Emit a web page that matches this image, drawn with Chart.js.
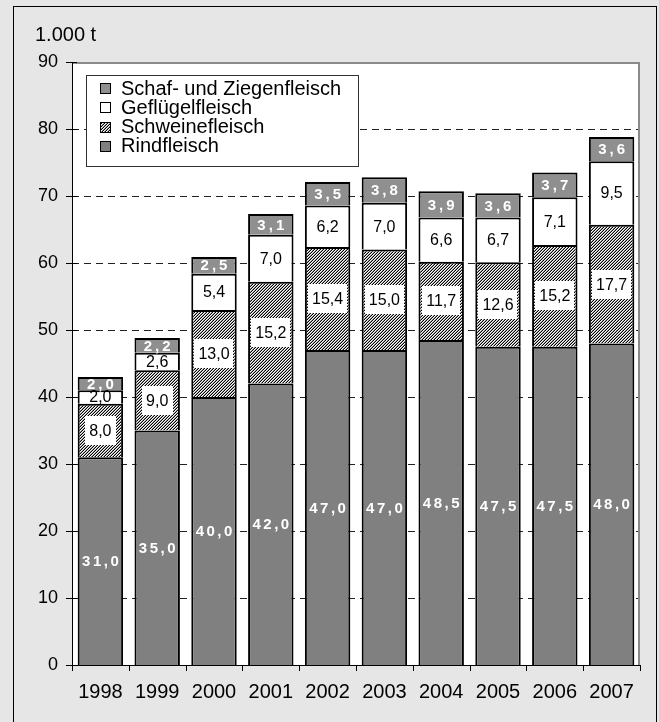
<!DOCTYPE html>
<html>
<head>
<meta charset="utf-8">
<script src="https://cdn.jsdelivr.net/npm/chart.js@4.4.1/dist/chart.umd.min.js"></script>
<style>
  html, body { margin: 0; padding: 0; background: #e6e6e6; }
  #wrap { width: 659px; height: 722px; }
</style>
</head>
<body>
<div id="wrap"><canvas id="meatChart" width="659" height="722"></canvas></div>
<script>
// Data (1.000 t)
const years = ['1998', '1999', '2000', '2001', '2002', '2003', '2004', '2005', '2006', '2007'];
const rindfleisch = [31.0, 35.0, 40.0, 42.0, 47.0, 47.0, 48.5, 47.5, 47.5, 48.0];
const schweinefleisch = [8.0, 9.0, 13.0, 15.2, 15.4, 15.0, 11.7, 12.6, 15.2, 17.7];
const gefluegelfleisch = [2.0, 2.6, 5.4, 7.0, 6.2, 7.0, 6.6, 6.7, 7.1, 9.5];
const schafZiegen = [2.0, 2.2, 2.5, 3.1, 3.5, 3.8, 3.9, 3.6, 3.7, 3.6];
const yTicks = [0, 10, 20, 30, 40, 50, 60, 70, 80, 90];
const unitLabel = '1.000 t';

const FONT = "'Liberation Sans', Arial, sans-serif";
const canvas = document.getElementById('meatChart');
const mainCtx = canvas.getContext('2d');

// fine hatch pattern for Schweinefleisch
function makeHatch() {
  const tile = document.createElement('canvas');
  tile.width = 3;
  tile.height = 3;
  const g = tile.getContext('2d');
  g.fillStyle = '#fff';
  g.fillRect(0, 0, 3, 3);
  for (let x = 0; x < 3; x++) {
    for (let y = 0; y < 3; y++) {
      const k = (x + y) % 3;
      if (k === 2) {
        g.fillStyle = '#000';
        g.fillRect(x, y, 1, 1);
      } else if (k === 1) {
        g.fillStyle = '#9a9a9a';
        g.fillRect(x, y, 1, 1);
      }
    }
  }
  return mainCtx.createPattern(tile, 'repeat');
}
const hatch = makeHatch();

const fmt = (v) => v.toFixed(1).replace('.', ',');

function drawSpaced(ctx, text, cx, cy, spacing) {
  const chars = text.split('');
  const widths = chars.map((c) => ctx.measureText(c).width);
  const total = widths.reduce((a, b) => a + b, 0) + spacing * (chars.length - 1);
  let x = cx - total / 2;
  ctx.textAlign = 'left';
  chars.forEach((c, i) => {
    ctx.fillText(c, x, cy);
    x += widths[i] + spacing;
  });
}

const legendItems = [
  { text: 'Schaf- und Ziegenfleisch', fill: '#8f8f8f' },
  { text: 'Geflügelfleisch', fill: '#ffffff' },
  { text: 'Schweinefleisch', fill: hatch },
  { text: 'Rindfleisch', fill: '#808080' },
];

const framePlugin = {
  id: 'frame',
  beforeDraw(chart) {
    const { ctx, chartArea: a } = chart;
    const yScale = chart.scales.y;
    ctx.save();
    ctx.fillStyle = '#e6e6e6';
    ctx.fillRect(0, 0, chart.width, chart.height);
    ctx.strokeStyle = '#000';
    ctx.lineWidth = 1;
    ctx.strokeRect(13.5, 6.5, 643, 740);
    // plot area
    ctx.fillStyle = '#fff';
    ctx.fillRect(a.left, a.top, a.right - a.left, a.bottom - a.top);
    // unit label
    ctx.fillStyle = '#000';
    ctx.font = '20px ' + FONT;
    ctx.textAlign = 'left';
    ctx.textBaseline = 'alphabetic';
    ctx.fillText(unitLabel, 35, 41);
    // dashed gridlines
    ctx.strokeStyle = '#222';
    ctx.setLineDash([7, 5]);
    yTicks.slice(1, -1).forEach((v) => {
      const y = Math.round(yScale.getPixelForValue(v)) + 0.5;
      ctx.beginPath();
      ctx.moveTo(a.left, y);
      ctx.lineTo(a.right - 2, y);
      ctx.stroke();
    });
    ctx.restore();
  },
  afterDatasetsDraw(chart) {
    const { ctx, chartArea: a } = chart;
    const yScale = chart.scales.y;
    ctx.save();
    // plot border top / right
    ctx.strokeStyle = '#8a8a8a';
    ctx.lineWidth = 2;
    ctx.beginPath();
    ctx.moveTo(a.left, a.top + 1);
    ctx.lineTo(a.right - 1, a.top + 1);
    ctx.lineTo(a.right - 1, a.bottom);
    ctx.stroke();
    // axes
    ctx.strokeStyle = '#000';
    ctx.lineWidth = 1;
    ctx.beginPath();
    ctx.moveTo(a.left + 0.5, a.top);
    ctx.lineTo(a.left + 0.5, a.bottom + 1);
    ctx.moveTo(a.left - 6, a.bottom + 0.5);
    ctx.lineTo(a.right, a.bottom + 0.5);
    yTicks.forEach((v) => {
      const y = Math.round(yScale.getPixelForValue(v)) + 0.5;
      ctx.moveTo(a.left - 6, y);
      ctx.lineTo(a.left + 5, y);
    });
    const catW = (a.right - a.left) / years.length;
    for (let i = 0; i <= years.length; i++) {
      const x = Math.round(a.left + i * catW) + 0.5;
      ctx.moveTo(x, a.bottom);
      ctx.lineTo(x, a.bottom + 6);
    }
    ctx.stroke();

    // data labels
    ctx.textBaseline = 'middle';
    chart.data.datasets.forEach((ds, di) => {
      const meta = chart.getDatasetMeta(di);
      meta.data.forEach((bar, i) => {
        const cy = (bar.y + bar.base) / 2;
        const txt = fmt(ds.data[i]);
        if (di === 0 || di === 3) {
          ctx.fillStyle = '#fff';
          ctx.font = 'bold 15px ' + FONT;
          drawSpaced(ctx, txt, bar.x, cy + 1, di === 0 ? 2.5 : 3);
        } else if (di === 1) {
          ctx.font = '16px ' + FONT;
          const w = ctx.measureText(txt).width;
          const bw = Math.max(w + 8, 31);
          const bh = 29;
          ctx.fillStyle = '#fff';
          ctx.fillRect(Math.round(bar.x - bw / 2), Math.round(cy - bh / 2), Math.round(bw), bh);
          ctx.fillStyle = '#000';
          ctx.textAlign = 'center';
          ctx.fillText(txt, bar.x, cy + 1);
        } else {
          ctx.font = '16px ' + FONT;
          ctx.fillStyle = '#000';
          ctx.textAlign = 'center';
          ctx.fillText(txt, bar.x, cy + 1);
        }
      });
    });

    // legend
    ctx.fillStyle = '#fff';
    ctx.fillRect(86, 75, 272, 91);
    ctx.strokeStyle = '#333';
    ctx.lineWidth = 1;
    ctx.strokeRect(86.5, 75.5, 272, 91);
    ctx.font = '20px ' + FONT;
    ctx.textAlign = 'left';
    ctx.textBaseline = 'middle';
    legendItems.forEach((item, i) => {
      const cy = 88 + i * 19.3;
      const my = Math.round(cy - 5);
      ctx.fillStyle = item.fill;
      ctx.fillRect(100, my, 11, 11);
      ctx.strokeStyle = '#000';
      ctx.strokeRect(100.5, my + 0.5, 10, 10);
      ctx.fillStyle = '#000';
      ctx.fillText(item.text, 121, cy + 1);
    });
    ctx.restore();
  },
};

const barStyle = {
  borderColor: '#000',
  borderWidth: 2,
  categoryPercentage: 1.0,
  barPercentage: 0.8,
};

new Chart(canvas, {
  type: 'bar',
  data: {
    labels: years,
    datasets: [
      { label: 'Rindfleisch', data: rindfleisch, backgroundColor: '#808080', ...barStyle },
      { label: 'Schweinefleisch', data: schweinefleisch, backgroundColor: hatch, ...barStyle },
      { label: 'Geflügelfleisch', data: gefluegelfleisch, backgroundColor: '#ffffff', ...barStyle },
      { label: 'Schaf- und Ziegenfleisch', data: schafZiegen, backgroundColor: '#8f8f8f', ...barStyle },
    ],
  },
  options: {
    responsive: false,
    animation: false,
    devicePixelRatio: 1,
    layout: { padding: { top: 62, right: 19, left: 0, bottom: 0 } },
    plugins: { legend: { display: false }, tooltip: { enabled: false } },
    scales: {
      x: {
        stacked: true,
        grid: { display: false, drawTicks: false },
        border: { display: false },
        ticks: { color: '#000', font: { family: FONT, size: 20 }, padding: 15, maxRotation: 0, autoSkip: false },
        afterFit: (s) => { s.height = 57; },
      },
      y: {
        stacked: true,
        min: 0,
        max: 90,
        grid: { display: false, drawTicks: false },
        border: { display: false },
        ticks: { stepSize: 10, color: '#000', font: { family: FONT, size: 18 }, padding: 14 },
        afterFit: (s) => { s.width = 72; },
      },
    },
  },
  plugins: [framePlugin],
});
</script>
</body>
</html>
